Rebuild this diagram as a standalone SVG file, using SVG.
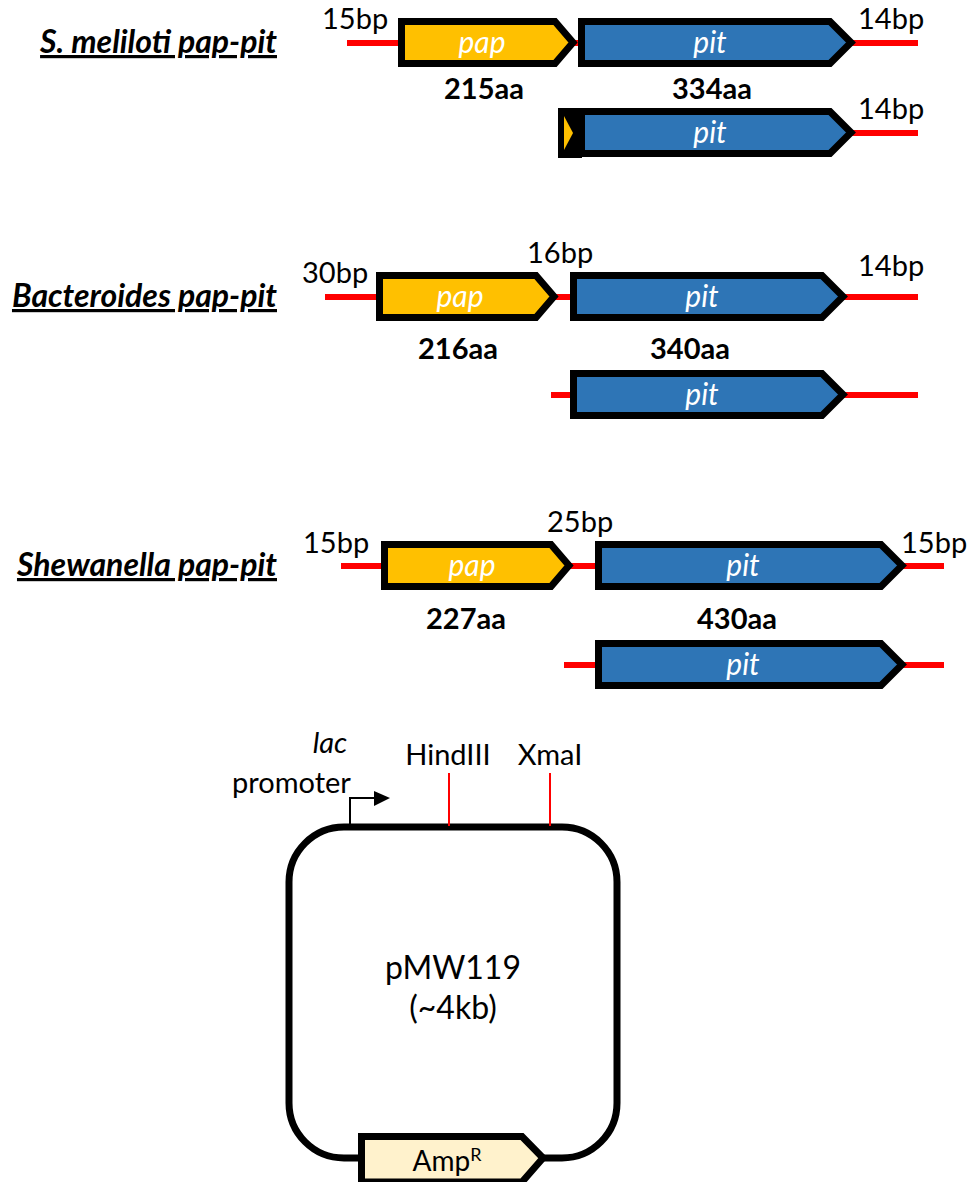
<svg xmlns="http://www.w3.org/2000/svg" width="972" height="1182" viewBox="0 0 972 1182">
  <style>
    .t { font-family: Lato, "Open Sans", "Liberation Sans", sans-serif; fill: #000; }
    .bp { font-size: 29px; }
    .aa { font-size: 29px; font-weight: bold; text-anchor: middle; }
    .title { font-size: 32px; font-weight: bold; font-style: italic; text-decoration: underline; text-anchor: end; }
    .gname { font-size: 30px; font-style: italic; fill: #fff; text-anchor: middle; }
    .dna { stroke: #ff0000; stroke-width: 6; fill: none; }
    .pap { fill: #ffc000; stroke: #000; stroke-width: 7; stroke-linejoin: miter; }
    .pit { fill: #2e75b6; stroke: #000; stroke-width: 7; stroke-linejoin: miter; }
    .site { stroke: #ff0000; stroke-width: 2; }
  </style>

  <!-- S. meliloti operon -->
  <g id="smeliloti">
    <text class="t title" x="277" y="53">S. meliloti pap-pit</text>
    <line class="dna" x1="347" y1="43" x2="918" y2="43"/>
    <text class="t bp" x="322" y="29">15bp</text>
    <polygon class="pap" points="401.5,21.5 555,21.5 573,42.5 555,63.5 401.5,63.5"/>
    <text class="t gname" x="482" y="53">pap</text>
    <polygon class="pit" points="581.5,21.5 830,21.5 851,42.5 830,63.5 581.5,63.5"/>
    <text class="t gname" x="710" y="53">pit</text>
    <text class="t bp" x="858" y="29">14bp</text>
    <text class="t aa" x="484" y="99">215aa</text>
    <text class="t aa" x="712" y="99">334aa</text>
  </g>
  <g id="smeliloti-pit">
    <line class="dna" x1="850" y1="133" x2="918" y2="133"/>
    <rect x="558" y="108" width="24" height="50" fill="#000"/>
    <polygon points="564,116 573,133 564,150" fill="#ffc000"/>
    <polygon class="pit" points="581.5,111.5 830,111.5 851,132.5 830,153.5 581.5,153.5"/>
    <text class="t gname" x="710" y="143">pit</text>
    <text class="t bp" x="858" y="119">14bp</text>
  </g>

  <!-- Bacteroides operon -->
  <g id="bacteroides">
    <text class="t title" x="277" y="307">Bacteroides pap-pit</text>
    <line class="dna" x1="325" y1="297" x2="918" y2="297"/>
    <text class="t bp" x="302" y="283">30bp</text>
    <polygon class="pap" points="379.5,275.5 536,275.5 554,296.5 536,317.5 379.5,317.5"/>
    <text class="t gname" x="460" y="307">pap</text>
    <text class="t bp" x="527" y="263">16bp</text>
    <polygon class="pit" points="573.5,275.5 822,275.5 843,296.5 822,317.5 573.5,317.5"/>
    <text class="t gname" x="702" y="307">pit</text>
    <text class="t bp" x="858" y="276">14bp</text>
    <text class="t aa" x="458" y="359">216aa</text>
    <text class="t aa" x="690" y="359">340aa</text>
  </g>
  <g id="bacteroides-pit">
    <line class="dna" x1="551" y1="395" x2="918" y2="395"/>
    <polygon class="pit" points="573.5,373.5 822,373.5 843,394.5 822,415.5 573.5,415.5"/>
    <text class="t gname" x="702" y="405">pit</text>
  </g>

  <!-- Shewanella operon -->
  <g id="shewanella">
    <text class="t title" x="277" y="576">Shewanella pap-pit</text>
    <line class="dna" x1="341" y1="566" x2="944" y2="566"/>
    <text class="t bp" x="303" y="553">15bp</text>
    <polygon class="pap" points="384.5,544.5 551,544.5 569,565.5 551,586.5 384.5,586.5"/>
    <text class="t gname" x="472" y="576">pap</text>
    <text class="t bp" x="547" y="532">25bp</text>
    <polygon class="pit" points="598.5,544.5 881,544.5 902,565.5 881,586.5 598.5,586.5"/>
    <text class="t gname" x="743" y="576">pit</text>
    <text class="t bp" x="901" y="553">15bp</text>
    <text class="t aa" x="466" y="629">227aa</text>
    <text class="t aa" x="737" y="629">430aa</text>
  </g>
  <g id="shewanella-pit">
    <line class="dna" x1="564" y1="665" x2="944" y2="665"/>
    <polygon class="pit" points="598.5,643.5 881,643.5 902,664.5 881,685.5 598.5,685.5"/>
    <text class="t gname" x="743" y="675">pit</text>
  </g>

  <!-- pMW119 vector -->
  <g id="plasmid">
    <rect x="289" y="827" width="328" height="331" rx="55" ry="55" fill="none" stroke="#000" stroke-width="7"/>
    <text class="t" x="453" y="979" font-size="32" text-anchor="middle">pMW119</text>
    <text class="t" x="453" y="1019" font-size="32" text-anchor="middle">(~4kb)</text>
  </g>
  <g id="lac-promoter">
    <polyline points="350,826 350,798 376,798" fill="none" stroke="#000" stroke-width="2"/>
    <polygon points="374,791 390,798 374,806" fill="#000"/>
    <text class="t" x="330" y="753" font-size="29" font-style="italic" text-anchor="middle">lac</text>
    <text class="t" x="232" y="793" font-size="29">promoter</text>
  </g>
  <g id="hindIII">
    <line class="site" x1="449" y1="773" x2="449" y2="826"/>
    <text class="t" x="448" y="765" font-size="29" text-anchor="middle">HindIII</text>
  </g>
  <g id="xmaI">
    <line class="site" x1="550" y1="773" x2="550" y2="826"/>
    <text class="t" x="550" y="765" font-size="29" text-anchor="middle">XmaI</text>
  </g>
  <g id="ampR">
    <polygon points="361.5,1136.5 522,1136.5 543,1158 522,1182 361.5,1182" fill="#fff2cc" stroke="#000" stroke-width="7"/>
    <text class="t" x="447" y="1171" font-size="28" text-anchor="middle">Amp<tspan font-size="18" dy="-10">R</tspan></text>
  </g>
</svg>
